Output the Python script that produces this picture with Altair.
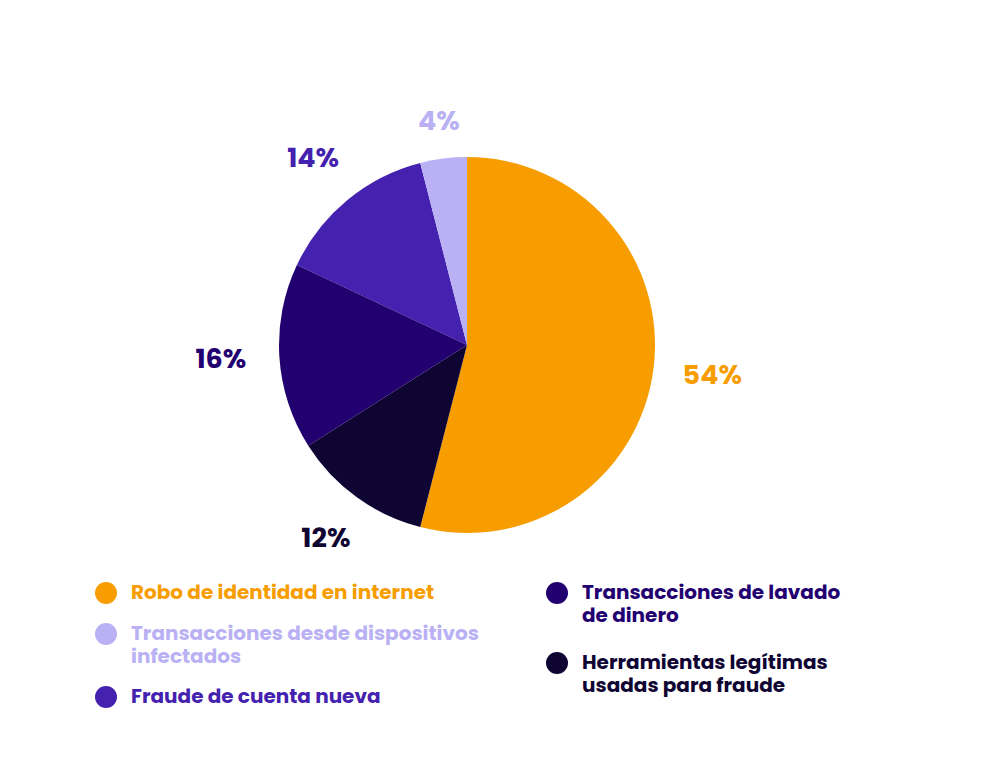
import altair as alt
import pandas as pd

# Slices in clockwise order from 12 o'clock
categories = [
    "Robo de identidad en internet",
    "Herramientas legítimas usadas para fraude",
    "Transacciones de lavado de dinero",
    "Fraude de cuenta nueva",
    "Transacciones desde dispositivos infectados",
]
values = [54, 12, 16, 14, 4]
colors = ["#F79D00", "#0F0533", "#230070", "#4421AF", "#B9B1F4"]

# Legend columns
legend_left = [
    "Robo de identidad en internet",
    "Transacciones desde dispositivos infectados",
    "Fraude de cuenta nueva",
]
legend_right = [
    "Transacciones de lavado de dinero",
    "Herramientas legítimas usadas para fraude",
]

# Line breaks used in the legend labels
legend_lines = {
    "Robo de identidad en internet": ["Robo de identidad en internet"],
    "Transacciones de lavado de dinero": ["Transacciones de lavado", "de dinero"],
    "Transacciones desde dispositivos infectados": ["Transacciones desde dispositivos", "infectados"],
    "Herramientas legítimas usadas para fraude": ["Herramientas legítimas", "usadas para fraude"],
    "Fraude de cuenta nueva": ["Fraude de cuenta nueva"],
}

color_of = dict(zip(categories, colors))
df = pd.DataFrame({"categoria": categories, "valor": values, "orden": list(range(len(values)))})


def js_array(lines):
    return "[" + ", ".join("'" + l + "'" for l in lines) + "]"


label_expr = ""
for k, v in legend_lines.items():
    label_expr += f"datum.label == '{k}' ? {js_array(v)} : "
label_expr += "datum.label"

label_color_expr = ""
for k, c in color_of.items():
    label_color_expr += f"datum.value == '{k}' ? '{c}' : "
label_color_expr += "'#000000'"

FONT = "Poppins, Inter, sans-serif"


def make_legend(x, y, row_pad):
    return alt.Legend(
        title=None,
        orient="none",
        legendX=x,
        legendY=y,
        direction="vertical",
        rowPadding=row_pad,
        symbolType="circle",
        symbolSize=484,
        symbolStrokeWidth=0,
        symbolOpacity=1,
        labelFont=FONT,
        labelFontSize=20,
        labelFontWeight=700,
        labelLimit=600,
        labelOffset=14,
        labelBaseline="top",
        labelColor={"expr": label_color_expr},
        labelExpr=label_expr,
        padding=0,
    )


theta_scale = alt.Scale(domain=[0, 100])

base = (
    alt.Chart(df)
    .transform_joinaggregate(total="sum(valor)")
    .transform_window(fin="sum(valor)", sort=[alt.SortField("orden")])
    .transform_calculate(
        inicio="datum.fin - datum.valor",
        medio="datum.fin - datum.valor / 2",
    )
    .transform_calculate(
        ang="datum.medio / datum.total * 2 * PI",
        pct="datum.valor + '%'",
    )
    .transform_calculate(r="208 + 38 * abs(sin(datum.ang)) + 12 * abs(cos(datum.ang))")
)


def arcs(subset, legend):
    return (
        base.transform_filter(alt.FieldOneOfPredicate(field="categoria", oneOf=subset))
        .mark_arc(radius=188)
        .encode(
            theta=alt.Theta("inicio:Q", scale=theta_scale, stack=False),
            theta2="fin:Q",
            color=alt.Color(
                "categoria:N",
                scale=alt.Scale(domain=subset, range=[color_of[c] for c in subset]),
                legend=legend,
            ),
        )
    )


pie_left = arcs(legend_left, make_legend(95, 582, 19))
pie_right = arcs(legend_right, make_legend(546, 582, 26))

labels = base.mark_text(font=FONT, fontSize=27, fontWeight=700).encode(
    theta=alt.Theta("medio:Q", scale=theta_scale, stack=False),
    radius=alt.Radius("r:Q", scale=None),
    text="pct:N",
    color=alt.Color("categoria:N", scale=alt.Scale(domain=categories, range=colors), legend=None),
)

chart = (
    alt.layer(pie_left, pie_right, labels)
    .resolve_scale(color="independent")
    .properties(
        width=934,
        height=690,
        autosize=alt.AutoSizeParams(type="none"),
        padding={"left": 0, "top": 0, "right": 66, "bottom": 71},
        background="white",
    )
    .configure_view(stroke=None)
    .configure(style={"guide-label": {"dy": -10, "lineHeight": 23}})
)

chart.save("out.html", embed_options={"renderer": "svg", "actions": False})
